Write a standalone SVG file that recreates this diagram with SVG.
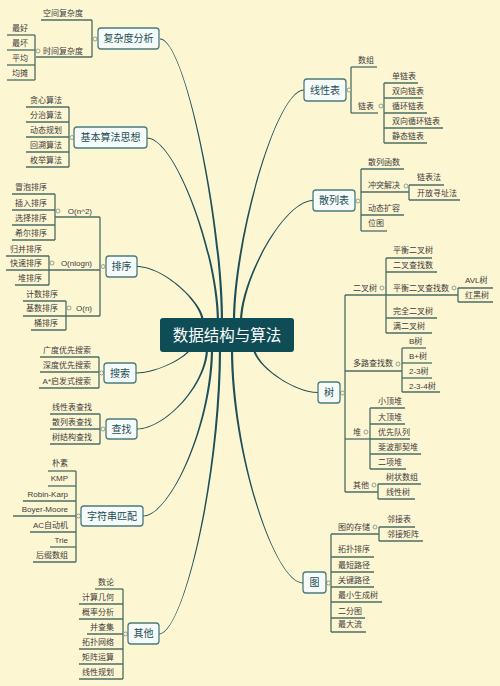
<svg xmlns="http://www.w3.org/2000/svg" width="500" height="686" viewBox="0 0 500 686">
<defs>
<style>
.bg{fill:#fdf6d3}
.br{fill:#1d5058}
.v{stroke:#4a6e63;stroke-width:1.3;fill:none}
.u{stroke:#4a6e63;stroke-width:1.3;fill:none}
.dot{fill:#fdf6d3;stroke:#7c8c84;stroke-width:0.8}
.nb{fill:#f4fbf9;stroke:#4b7b7c;stroke-width:1.3}
.nt{font-family:"Liberation Sans","Noto Sans CJK SC",sans-serif;font-size:10px;fill:#1e4d55;text-anchor:middle;dominant-baseline:central}
.ct{font-family:"Liberation Sans","Noto Sans CJK SC",sans-serif;font-size:15.5px;fill:#ffffff;text-anchor:middle;dominant-baseline:central}
.t{font-family:"Liberation Sans","Noto Sans CJK SC",sans-serif;font-size:8px;fill:#3c3c3c;dominant-baseline:central}
.e{text-anchor:end}
</style>
</defs>
<rect class="bg" x="0" y="0" width="500" height="686"/>

<g id="connectors">
<path class="br" d="M223.1,322 C223.1,220.4 184.8,38.55 160,38.55 L160,39.45 C184.8,39.45 220.9,220.4 220.9,322Z"/>
<path class="br" d="M219.1,322 C219.1,255 175.4,137.55 147,137.55 L147,138.45 C175.4,138.45 216.9,255 216.9,322Z"/>
<path class="br" d="M204.1,322 C204.1,302.6 163.4,266.05 137,266.05 L137,266.95 C163.4,266.95 201.9,302.6 201.9,322Z"/>
<path class="br" d="M235.1,322 C235.1,240.8 276,90.45 304,90.45 L304,89.55 C276,89.55 232.9,240.8 232.9,322Z"/>
<path class="br" d="M242.1,322 C242.1,279.5 284.2,200.95 313,200.95 L313,200.05 C284.2,200.05 239.9,279.5 239.9,322Z"/>
<path class="br" d="M193.1,345 C193.1,354.8 158.4,373.45 136,373.45 L136,372.55 C158.4,372.55 190.9,354.8 190.9,345Z"/>
<path class="br" d="M208.1,348 C208.1,384.5 165,429.45 137,429.45 L137,428.55 C165,428.55 205.9,384.5 205.9,348Z"/>
<path class="br" d="M213.1,348 C213.1,423.6 170.6,516.45 143,516.45 L143,515.55 C170.6,515.55 210.9,423.6 210.9,348Z"/>
<path class="br" d="M221.1,348 C221.1,476.7 183.4,634.45 159,634.45 L159,633.55 C183.4,633.55 218.9,476.7 218.9,348Z"/>
<path class="br" d="M233.1,348 C233.1,453.8 274.6,582.55 303,582.55 L303,583.45 C274.6,583.45 230.9,453.8 230.9,348Z"/>
<path class="br" d="M255.1,348 C255.1,363.6 292.4,392.05 318,392.05 L318,392.95 C292.4,392.95 252.9,363.6 252.9,348Z"/>
<path class="v" d="M92,20V57 M35,35V80 M69,107V167 M100,217V316 M55,194V240 M49,256V285 M66,301V330 M99,357V388 M100,414V444 M76,471V562 M123,589V679 M351,67V113 M384,83V143 M361,169V231 M409,185V200 M345,295V492 M386,258V333 M458,288V302 M402,348V392 M370,408V469 M378,484V499 M331,534V632 M379,527V541"/>
<circle class="dot" cx="95" cy="39" r="2"/>
<circle class="dot" cx="38" cy="51" r="2"/>
<circle class="dot" cx="72" cy="137.5" r="2"/>
<circle class="dot" cx="103" cy="266.5" r="2"/>
<circle class="dot" cx="58" cy="211" r="2"/>
<circle class="dot" cx="52" cy="263" r="2"/>
<circle class="dot" cx="69" cy="308" r="2"/>
<circle class="dot" cx="101.5" cy="373" r="2"/>
<circle class="dot" cx="103" cy="429" r="2"/>
<circle class="dot" cx="78.5" cy="516" r="2"/>
<circle class="dot" cx="125.5" cy="634" r="2"/>
<circle class="dot" cx="349" cy="90" r="2"/>
<circle class="dot" cx="381" cy="106" r="2"/>
<circle class="dot" cx="358" cy="201" r="2"/>
<circle class="dot" cx="406" cy="186" r="2"/>
<circle class="dot" cx="342.5" cy="393" r="2"/>
<circle class="dot" cx="382" cy="288" r="2"/>
<circle class="dot" cx="454" cy="288" r="2"/>
<circle class="dot" cx="398" cy="364" r="2"/>
<circle class="dot" cx="366" cy="432" r="2"/>
<circle class="dot" cx="374" cy="485" r="2"/>
<circle class="dot" cx="328.5" cy="583" r="2"/>
<circle class="dot" cx="375" cy="527" r="2"/>
</g>

<g id="center"><rect x="160" y="318" width="134" height="34" rx="3" fill="#0f4d56"/><text class="ct" x="227" y="335">数据结构与算法</text></g>

<g id="n-complexity"><rect class="nb" x="98" y="28" width="61" height="21" rx="3"/><text class="nt" x="128.5" y="38.5">复杂度分析</text></g>
<g id="n-ideas"><rect class="nb" x="74" y="127" width="73" height="21" rx="3"/><text class="nt" x="110.5" y="137.5">基本算法思想</text></g>
<g id="n-sort"><rect class="nb" x="106" y="256" width="31" height="21" rx="3"/><text class="nt" x="121.5" y="266.5">排序</text></g>
<g id="n-search"><rect class="nb" x="104" y="363" width="32" height="20" rx="3"/><text class="nt" x="120" y="373">搜索</text></g>
<g id="n-find"><rect class="nb" x="106" y="419" width="31" height="20" rx="3"/><text class="nt" x="121.5" y="429">查找</text></g>
<g id="n-string"><rect class="nb" x="81" y="506" width="62" height="20" rx="3"/><text class="nt" x="112" y="516">字符串匹配</text></g>
<g id="n-other"><rect class="nb" x="128" y="623" width="31" height="21" rx="3"/><text class="nt" x="143.5" y="633.5">其他</text></g>
<g id="n-linear"><rect class="nb" x="304" y="79" width="42" height="22" rx="3"/><text class="nt" x="325" y="90">线性表</text></g>
<g id="n-hash"><rect class="nb" x="313" y="190" width="42" height="21" rx="3"/><text class="nt" x="334" y="200.5">散列表</text></g>
<g id="n-tree"><rect class="nb" x="318" y="382" width="22" height="21" rx="3"/><text class="nt" x="329" y="392.5">树</text></g>
<g id="n-graph"><rect class="nb" x="303" y="572" width="23" height="21" rx="3"/><text class="nt" x="314.5" y="582.5">图</text></g>

<g id="s-space"><path class="u" d="M41,20H92"/><text class="t e" x="83" y="13">空间复杂度</text></g>
<g id="s-time"><path class="u" d="M36,57H92"/><text class="t e" x="83" y="51">时间复杂度</text></g>
<g id="s-best"><path class="u" d="M7,35H35"/><text class="t e" x="28" y="28">最好</text></g>
<g id="s-worst"><path class="u" d="M7,50H35"/><text class="t e" x="28" y="43">最坏</text></g>
<g id="s-avg"><path class="u" d="M7,65H35"/><text class="t e" x="28" y="58">平均</text></g>
<g id="s-amort"><path class="u" d="M7,80H35"/><text class="t e" x="28" y="73">均摊</text></g>

<g id="s-greedy"><path class="u" d="M26,107H69"/><text class="t e" x="62" y="100">贪心算法</text></g>
<g id="s-dc"><path class="u" d="M26,122H69"/><text class="t e" x="62" y="115">分治算法</text></g>
<g id="s-dp"><path class="u" d="M26,137H69"/><text class="t e" x="62" y="130">动态规划</text></g>
<g id="s-bt"><path class="u" d="M26,152H69"/><text class="t e" x="62" y="145">回溯算法</text></g>
<g id="s-enum"><path class="u" d="M26,167H69"/><text class="t e" x="62" y="160">枚举算法</text></g>

<g id="s-on2"><path class="u" d="M55,217H100"/><text class="t e" x="92" y="211">O(n^2)</text></g>
<g id="s-bubble"><path class="u" d="M12,194H55"/><text class="t e" x="47" y="187">冒泡排序</text></g>
<g id="s-insert"><path class="u" d="M12,210H55"/><text class="t e" x="47" y="203">插入排序</text></g>
<g id="s-select"><path class="u" d="M12,225H55"/><text class="t e" x="47" y="218">选择排序</text></g>
<g id="s-shell"><path class="u" d="M12,240H55"/><text class="t e" x="47" y="233">希尔排序</text></g>
<g id="s-onlogn"><path class="u" d="M49,270H100"/><text class="t e" x="92" y="263">O(nlogn)</text></g>
<g id="s-merge"><path class="u" d="M6,256H49"/><text class="t e" x="42" y="249">归并排序</text></g>
<g id="s-quick"><path class="u" d="M6,270H49"/><text class="t e" x="42" y="263">快速排序</text></g>
<g id="s-heapsort"><path class="u" d="M15,285H49"/><text class="t e" x="42" y="278">堆排序</text></g>
<g id="s-on"><path class="u" d="M66,316H100"/><text class="t e" x="92" y="308">O(n)</text></g>
<g id="s-count"><path class="u" d="M23,301H66"/><text class="t e" x="58" y="294">计数排序</text></g>
<g id="s-radix"><path class="u" d="M23,316H66"/><text class="t e" x="58" y="308">基数排序</text></g>
<g id="s-bucket"><path class="u" d="M31,330H66"/><text class="t e" x="58" y="323">桶排序</text></g>

<g id="s-bfs"><path class="u" d="M40,357H99"/><text class="t e" x="91" y="350">广度优先搜索</text></g>
<g id="s-dfs"><path class="u" d="M40,372H99"/><text class="t e" x="91" y="365.5">深度优先搜索</text></g>
<g id="s-astar"><path class="u" d="M39,388H99"/><text class="t e" x="91" y="381">A*启发式搜索</text></g>

<g id="s-linfind"><path class="u" d="M50,414H100"/><text class="t e" x="92" y="407">线性表查找</text></g>
<g id="s-hashfind"><path class="u" d="M50,429H100"/><text class="t e" x="92" y="422">散列表查找</text></g>
<g id="s-treefind"><path class="u" d="M50,444H100"/><text class="t e" x="92" y="437">树结构查找</text></g>

<g id="s-naive"><path class="u" d="M48,471H76"/><text class="t e" x="68" y="463.5">朴素</text></g>
<g id="s-kmp"><path class="u" d="M48,486H76"/><text class="t e" x="68" y="478.5">KMP</text></g>
<g id="s-rk"><path class="u" d="M23,501H76"/><text class="t e" x="68" y="494">Robin-Karp</text></g>
<g id="s-bm"><path class="u" d="M13,516H76"/><text class="t e" x="68" y="509">Boyer-Moore</text></g>
<g id="s-ac"><path class="u" d="M30,532H76"/><text class="t e" x="68" y="525">AC自动机</text></g>
<g id="s-trie"><path class="u" d="M50,547H76"/><text class="t e" x="68" y="540">Trie</text></g>
<g id="s-sa"><path class="u" d="M33,562H76"/><text class="t e" x="68" y="555">后缀数组</text></g>

<g id="s-nt"><path class="u" d="M95,589H123"/><text class="t e" x="114" y="582">数论</text></g>
<g id="s-geo"><path class="u" d="M79,604H123"/><text class="t e" x="114" y="597">计算几何</text></g>
<g id="s-prob"><path class="u" d="M79,619H123"/><text class="t e" x="114" y="612">概率分析</text></g>
<g id="s-uf"><path class="u" d="M87,634H123"/><text class="t e" x="114" y="627">并查集</text></g>
<g id="s-topo"><path class="u" d="M79,649H123"/><text class="t e" x="114" y="642">拓扑网络</text></g>
<g id="s-matrix"><path class="u" d="M79,664H123"/><text class="t e" x="114" y="657">矩阵运算</text></g>
<g id="s-lp"><path class="u" d="M79,679H123"/><text class="t e" x="114" y="672">线性规划</text></g>

<g id="s-array"><path class="u" d="M351,67H377"/><text class="t" x="358" y="60">数组</text></g>
<g id="s-list"><path class="u" d="M351,113H378"/><text class="t" x="358" y="106">链表</text></g>
<g id="s-sll"><path class="u" d="M384,83H418"/><text class="t" x="392" y="76">单链表</text></g>
<g id="s-dll"><path class="u" d="M384,98H422"/><text class="t" x="392" y="91">双向链表</text></g>
<g id="s-cll"><path class="u" d="M384,113H427"/><text class="t" x="392" y="106">循环链表</text></g>
<g id="s-dcll"><path class="u" d="M384,128H443"/><text class="t" x="392" y="121">双向循环链表</text></g>
<g id="s-static"><path class="u" d="M384,143H427"/><text class="t" x="392" y="136">静态链表</text></g>

<g id="s-hashfn"><path class="u" d="M361,169H404"/><text class="t" x="368" y="162">散列函数</text></g>
<g id="s-conflict"><path class="u" d="M361,192H409"/><text class="t" x="368" y="185">冲突解决</text></g>
<g id="s-chain"><path class="u" d="M409,185H444"/><text class="t" x="417" y="177.5">链表法</text></g>
<g id="s-open"><path class="u" d="M409,200H460"/><text class="t" x="417" y="193">开放寻址法</text></g>
<g id="s-resize"><path class="u" d="M361,215H404"/><text class="t" x="368" y="208">动态扩容</text></g>
<g id="s-bitmap"><path class="u" d="M361,231H387"/><text class="t" x="368" y="223.5">位图</text></g>

<g id="s-bt2"><path class="u" d="M345,295H386"/><text class="t" x="353" y="288">二叉树</text></g>
<g id="s-balbt"><path class="u" d="M386,258H432"/><text class="t" x="393" y="250.5">平衡二叉树</text></g>
<g id="s-bst"><path class="u" d="M386,272H437"/><text class="t" x="393" y="265.5">二叉查找数</text></g>
<g id="s-bbst"><path class="u" d="M386,295H458"/><text class="t" x="393" y="288">平衡二叉查找数</text></g>
<g id="s-avl"><path class="u" d="M458,288H493"/><text class="t" x="465" y="280.5">AVL树</text></g>
<g id="s-rb"><path class="u" d="M458,302H493"/><text class="t" x="465" y="295.5">红黑树</text></g>
<g id="s-complete"><path class="u" d="M386,318H437"/><text class="t" x="393" y="311">完全二叉树</text></g>
<g id="s-full"><path class="u" d="M386,333H432"/><text class="t" x="393" y="326">满二叉树</text></g>
<g id="s-multi"><path class="u" d="M345,371H402"/><text class="t" x="353" y="363.5">多路查找数</text></g>
<g id="s-b"><path class="u" d="M402,348H426"/><text class="t" x="409" y="341">B树</text></g>
<g id="s-bplus"><path class="u" d="M402,363H432"/><text class="t" x="409" y="356.5">B+树</text></g>
<g id="s-23"><path class="u" d="M402,378H432"/><text class="t" x="409" y="371.5">2-3树</text></g>
<g id="s-234"><path class="u" d="M402,392H440"/><text class="t" x="409" y="386.5">2-3-4树</text></g>
<g id="s-heap"><path class="u" d="M345,439H370"/><text class="t" x="353" y="432">堆</text></g>
<g id="s-minheap"><path class="u" d="M370,408H405"/><text class="t" x="378" y="401.5">小顶堆</text></g>
<g id="s-maxheap"><path class="u" d="M370,424H405"/><text class="t" x="378" y="417">大顶堆</text></g>
<g id="s-pq"><path class="u" d="M370,439H410"/><text class="t" x="378" y="432">优先队列</text></g>
<g id="s-fib"><path class="u" d="M370,454H421"/><text class="t" x="378" y="447">斐波那契堆</text></g>
<g id="s-binom"><path class="u" d="M370,469H406"/><text class="t" x="378" y="462">二项堆</text></g>
<g id="s-tother"><path class="u" d="M345,492H378"/><text class="t" x="353" y="485">其他</text></g>
<g id="s-fenwick"><path class="u" d="M378,484H421"/><text class="t" x="386" y="477.5">树状数组</text></g>
<g id="s-segtree"><path class="u" d="M378,499H415"/><text class="t" x="386" y="492.5">线性树</text></g>

<g id="s-gstore"><path class="u" d="M331,534H379"/><text class="t" x="338" y="527">图的存储</text></g>
<g id="s-adjlist"><path class="u" d="M379,527H415"/><text class="t" x="387" y="519.5">邻接表</text></g>
<g id="s-adjmat"><path class="u" d="M379,541H423"/><text class="t" x="387" y="534">邻接矩阵</text></g>
<g id="s-toposort"><path class="u" d="M331,557H374"/><text class="t" x="338" y="549.5">拓扑排序</text></g>
<g id="s-sp"><path class="u" d="M331,572H374"/><text class="t" x="338" y="565">最短路径</text></g>
<g id="s-cp"><path class="u" d="M331,587H374"/><text class="t" x="338" y="580">关键路径</text></g>
<g id="s-mst"><path class="u" d="M331,602H382"/><text class="t" x="338" y="595">最小生成树</text></g>
<g id="s-bip"><path class="u" d="M331,618H365"/><text class="t" x="338" y="611">二分图</text></g>
<g id="s-flow"><path class="u" d="M331,632H366"/><text class="t" x="338" y="624.5">最大流</text></g>
</svg>
